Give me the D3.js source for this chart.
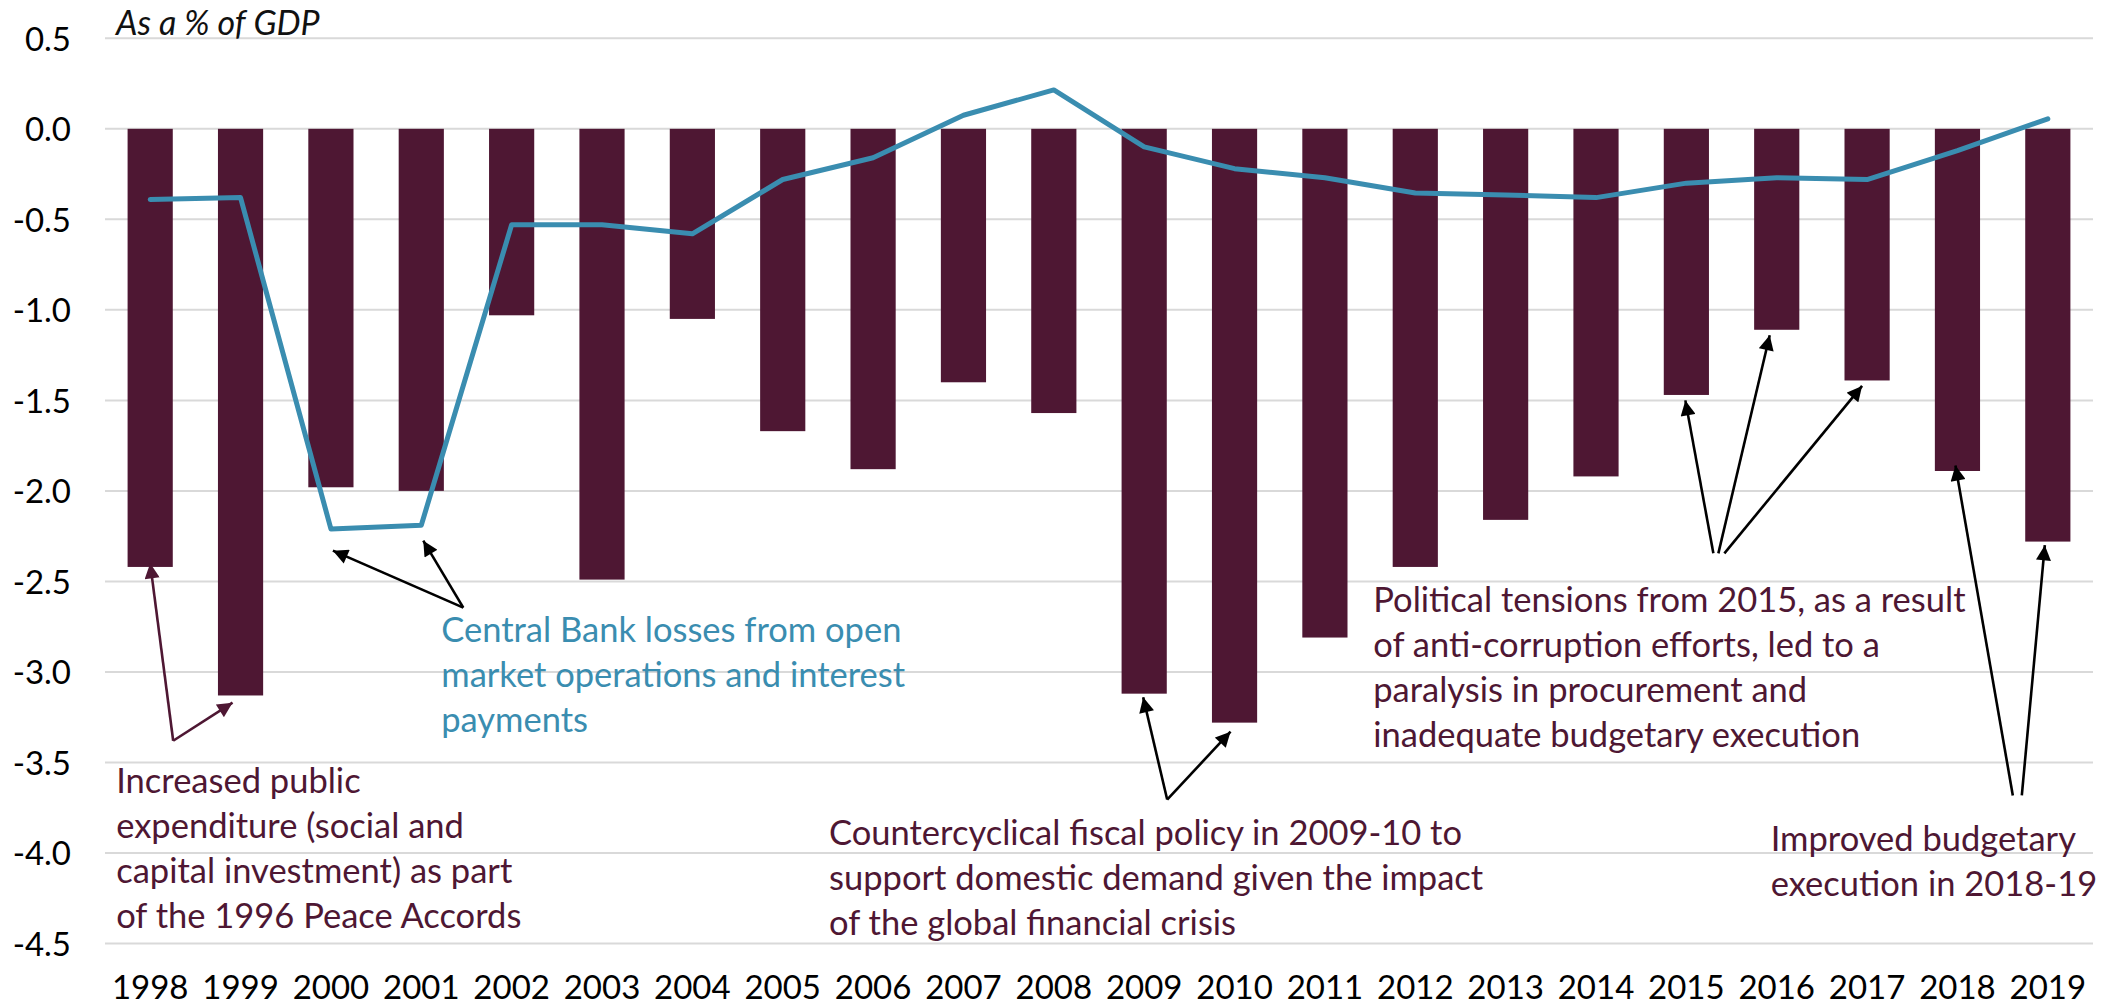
<!DOCTYPE html>
<html>
<head>
<meta charset="utf-8">
<script src="https://cdn.jsdelivr.net/npm/d3@7"></script>
<style>
  html, body { margin: 0; padding: 0; background: #fff; }
  svg { display: block; }
  text { font-family: Lato, "Open Sans", sans-serif; }
</style>
</head>
<body>
<svg id="chart" width="2118" height="1006"></svg>
<script>
// ---- Data ----
const years = ["1998","1999","2000","2001","2002","2003","2004","2005","2006","2007","2008",
               "2009","2010","2011","2012","2013","2014","2015","2016","2017","2018","2019"];
const fiscalBalance = [-2.42, -3.13, -1.98, -2.00, -1.03, -2.49, -1.05, -1.67, -1.88, -1.40, -1.57,
                       -3.12, -3.28, -2.81, -2.42, -2.16, -1.92, -1.47, -1.11, -1.39, -1.89, -2.28];
const centralBank = [-0.39, -0.38, -2.21, -2.19, -0.53, -0.53, -0.58, -0.28, -0.16, 0.075, 0.215,
                     -0.10, -0.22, -0.27, -0.355, -0.365, -0.38, -0.30, -0.27, -0.28, -0.12, 0.055];
const yTicks = [0.5, 0.0, -0.5, -1.0, -1.5, -2.0, -2.5, -3.0, -3.5, -4.0, -4.5];
const unitLabel = "As a % of GDP";

const annotations = [
  { lines: ["Increased public", "expenditure (social and", "capital investment) as part", "of the 1996 Peace Accords"],
    year: "1998", dx: -34, v: -3.666, color: "maroon" },
  { lines: ["Central Bank losses from open", "market operations and interest", "payments"],
    year: "2001", dx: 20, v: -2.837, color: "blue" },
  { lines: ["Countercyclical fiscal policy in 2009-10 to", "support domestic demand given the impact", "of the global financial crisis"],
    year: "2006", dx: -44, v: -3.958, color: "maroon" },
  { lines: ["Political tensions from 2015, as a result", "of anti-corruption efforts, led to a", "paralysis in procurement and", "inadequate budgetary execution"],
    year: "2012", dx: -42, v: -2.671, color: "maroon" },
  { lines: ["Improved budgetary", "execution in 2018-19"],
    year: "2016", dx: -6, v: -3.991, color: "maroon" }
];

// arrows: from [year, dx, value] to [year, dx, value]
const arrows = [
  { from: ["1998", 23, -3.38], to: ["1998", 0, -2.40], color: "maroon" },
  { from: ["1998", 23, -3.38], to: ["1999", -8, -3.17], color: "maroon" },
  { from: ["2001", 42, -2.645], to: ["2001", 2, -2.275], color: "black" },
  { from: ["2001", 42, -2.645], to: ["2000", 2, -2.33], color: "black" },
  { from: ["2009", 23, -3.705], to: ["2009", -1, -3.14], color: "black" },
  { from: ["2009", 23, -3.705], to: ["2010", -4, -3.33], color: "black" },
  { from: ["2015", 27, -2.345], to: ["2015", -1, -1.50], color: "black" },
  { from: ["2015", 32, -2.345], to: ["2016", -7, -1.14], color: "black" },
  { from: ["2015", 38, -2.345], to: ["2017", -5, -1.42], color: "black" },
  { from: ["2019", -35, -3.682], to: ["2018", -2, -1.86], color: "black" },
  { from: ["2019", -26, -3.682], to: ["2019", -3, -2.30], color: "black" }
];

(function () {
  const colors = { maroon: "#4E1733", blue: "#3A8DB0", black: "#000000", grid: "#D9D9D9" };
  const svg = d3.select("#chart");
  const mLeft = 105, mRight = 2093, mTop = 38.3, mBottom = 943.5;

  const x = d3.scaleBand().domain(years).range([mLeft, mRight]).paddingInner(0.5).paddingOuter(0.25);
  const y = d3.scaleLinear().domain([-4.5, 0.5]).range([mBottom, mTop]);
  const xc = yr => x(yr) + x.bandwidth() / 2;

  // gridlines
  svg.append("g").selectAll("line").data(yTicks).join("line")
    .attr("x1", mLeft).attr("x2", mRight)
    .attr("y1", d => y(d)).attr("y2", d => y(d))
    .attr("stroke", colors.grid).attr("stroke-width", 2);

  // y axis labels
  const yAxis = d3.axisLeft(y).tickValues(yTicks).tickFormat(d => d.toFixed(1)).tickSize(0).tickPadding(0);
  const yg = svg.append("g").attr("transform", "translate(71,0)").call(yAxis);
  yg.select(".domain").remove();
  yg.attr("font-family", null).attr("font-size", null);
  yg.selectAll("text").attr("font-size", 33).attr("fill", "#000")
    .attr("dy", "0.36em").attr("x", 0);

  // x axis labels
  const xAxis = d3.axisBottom(x).tickSize(0).tickPadding(0);
  const xg = svg.append("g").attr("transform", "translate(0,999)").call(xAxis);
  xg.select(".domain").remove();
  xg.attr("font-family", null).attr("font-size", null);
  xg.selectAll("text").attr("font-size", 33).attr("fill", "#000")
    .attr("dy", 0).attr("y", 0);

  // bars
  svg.append("g").selectAll("rect").data(years).join("rect")
    .attr("x", d => x(d)).attr("width", x.bandwidth())
    .attr("y", (d, i) => y(Math.max(0, fiscalBalance[i])))
    .attr("height", (d, i) => Math.abs(y(fiscalBalance[i]) - y(0)))
    .attr("fill", colors.maroon);

  // line
  const line = d3.line().x((d, i) => xc(years[i])).y(d => y(d));
  svg.append("path").datum(centralBank)
    .attr("d", line).attr("fill", "none")
    .attr("stroke", colors.blue).attr("stroke-width", 5)
    .attr("stroke-linejoin", "round").attr("stroke-linecap", "round");

  // title
  svg.append("text").attr("x", 116).attr("y", 35).attr("font-size", 34)
    .attr("font-style", "italic").attr("fill", "#111").text(unitLabel);

  // arrow markers
  const defs = svg.append("defs");
  ["maroon", "black"].forEach(c => {
    defs.append("marker").attr("id", "arrow-" + c)
      .attr("viewBox", "0 0 10 10").attr("refX", 10).attr("refY", 5)
      .attr("markerWidth", 6.2).attr("markerHeight", 5.8).attr("markerUnits", "strokeWidth")
      .attr("orient", "auto")
      .append("path").attr("d", "M0,0 L10,5 L0,10 z").attr("fill", colors[c]);
  });

  svg.append("g").selectAll("line").data(arrows).join("line")
    .attr("x1", d => xc(d.from[0]) + d.from[1]).attr("y1", d => y(d.from[2]))
    .attr("x2", d => xc(d.to[0]) + d.to[1]).attr("y2", d => y(d.to[2]))
    .attr("stroke", d => colors[d.color]).attr("stroke-width", 2.6)
    .attr("marker-end", d => `url(#arrow-${d.color})`);

  // annotation text
  const ag = svg.append("g");
  annotations.forEach(a => {
    const t = ag.append("text")
      .attr("x", xc(a.year) + a.dx).attr("y", y(a.v))
      .attr("font-size", 34.5).attr("fill", colors[a.color]);
    a.lines.forEach((ln, i) => {
      t.append("tspan").attr("x", xc(a.year) + a.dx).attr("dy", i === 0 ? 0 : 45).text(ln);
    });
  });
})();
</script>
</body>
</html>
